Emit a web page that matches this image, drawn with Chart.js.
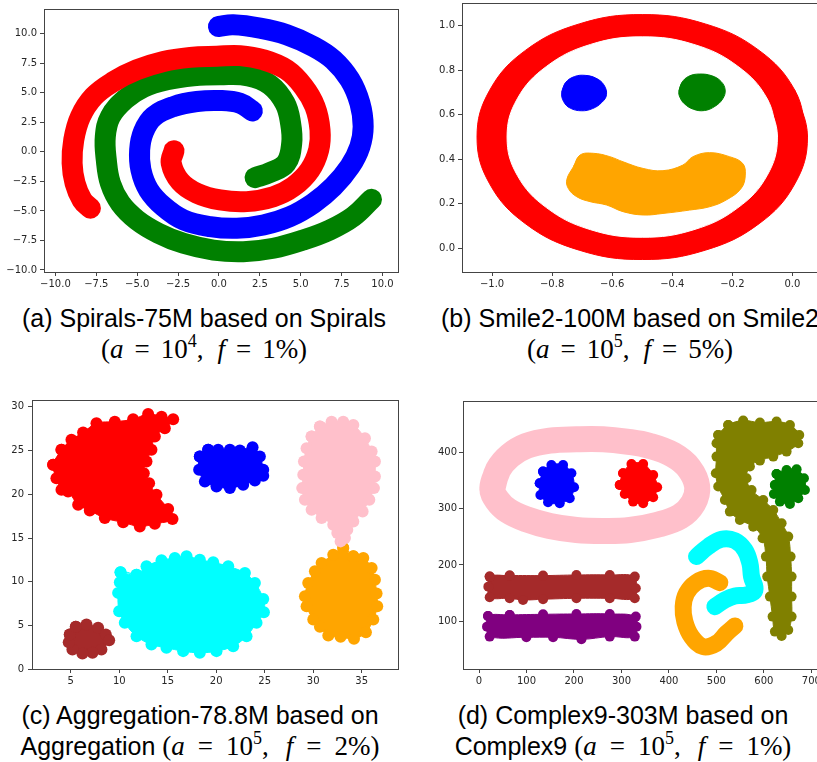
<!DOCTYPE html>
<html>
<head>
<meta charset="utf-8">
<script src="https://cdn.jsdelivr.net/npm/chart.js@4.4.1/dist/chart.umd.min.js"></script>
<style>
  html, body { margin: 0; padding: 0; background: #fff; }
  body { width: 817px; height: 762px; position: relative; overflow: hidden; }
  canvas { position: absolute; }
  .cap { position: absolute; width: 500px; text-align: center; font-family: 'Liberation Sans', Arial, sans-serif; font-size: 25px; color: #000; white-space: nowrap; }
  .cap div { height: 31px; line-height: 31px; }
  .m { font-family: 'Liberation Serif', 'DejaVu Serif', serif; font-size: 27px; }
  .m i { font-style: italic; }
  .m sup { font-size: 18px; vertical-align: 11px; line-height: 0; }
  .m .eq { margin: 0 11px; }
  .m .cm { margin-right: 14px; }
  .w .eq { margin: 0 13px; }
  .w .cm { margin-right: 17px; }
</style>
</head>
<body>
<canvas id="pa" width="410" height="290" style="left:0;top:0"></canvas>
<canvas id="pb" width="420" height="290" style="left:418px;top:0"></canvas>
<canvas id="pc" width="410" height="300" style="left:0;top:390px"></canvas>
<canvas id="pd" width="420" height="300" style="left:418px;top:390px"></canvas>

<div class="cap" style="left:-46px;top:303px">
  <div>(a) Spirals-75M based on Spirals</div>
  <div><span class="m">(<i>a</i><span class="eq">=</span>10<sup>4</sup><span class="cm">,</span><i>f</i><span class="eq">=</span>1%)</span></div>
</div>
<div class="cap" style="left:380px;top:303px">
  <div>(b) Smile2-100M based on Smile2</div>
  <div><span class="m">(<i>a</i><span class="eq">=</span>10<sup>5</sup><span class="cm">,</span><i>f</i><span class="eq">=</span>5%)</span></div>
</div>
<div class="cap" style="left:-50px;top:700px">
  <div>(c) Aggregation-78.8M based on</div>
  <div>Aggregation <span class="m w">(<i>a</i><span class="eq">=</span>10<sup>5</sup><span class="cm">,</span><i>f</i><span class="eq">=</span>2%)</span></div>
</div>
<div class="cap" style="left:373px;top:700px">
  <div>(d) Complex9-303M based on</div>
  <div>Complex9 <span class="m w">(<i>a</i><span class="eq">=</span>10<sup>5</sup><span class="cm">,</span><i>f</i><span class="eq">=</span>1%)</span></div>
</div>

<script>
// (a) Spirals: centre lines of the three arms
const spiralRed = [[-2.75,0.1],[-2.92,-0.96],[-2.37,-2.51],[-1.35,-3.50],[0.07,-4.07],[1.70,-4.21],[3.33,-3.79],[4.55,-2.94],[5.56,-1.53],[6.10,0.17],[6.18,1.86],[5.87,3.84],[5.16,5.54],[4.14,6.95],[2.72,7.80],[1.29,8.15],[-0.13,8.10],[-1.76,8.00],[-3.39,7.66],[-5.02,6.95],[-6.44,5.96],[-7.66,4.69],[-8.47,2.99],[-8.88,1.02],[-8.98,-0.96],[-8.80,-2.66],[-8.37,-4.07],[-7.86,-4.77]];
const spiralGreen = [[2.21,-2.18],[3.12,-1.75],[4.10,-0.96],[4.45,0.73],[4.38,2.43],[4.04,4.12],[3.12,5.68],[1.80,6.44],[0.07,6.53],[-1.56,6.44],[-3.18,6.10],[-4.61,5.48],[-5.73,4.46],[-6.64,2.99],[-6.95,1.30],[-6.89,-0.68],[-6.64,-2.66],[-6.03,-4.35],[-5.02,-5.76],[-3.69,-6.89],[-2.17,-7.74],[-0.34,-8.31],[1.49,-8.45],[3.33,-8.16],[5.16,-7.46],[6.78,-6.61],[8.21,-5.48],[9.33,-4.01]];
const spiralBlue = [[2.04,3.47],[1.29,4.12],[0.07,4.35],[-1.35,4.27],[-2.78,3.84],[-4.00,2.99],[-4.61,1.72],[-4.85,0.17],[-4.77,-1.53],[-4.30,-3.22],[-3.39,-4.63],[-2.17,-5.76],[-0.54,-6.33],[1.09,-6.47],[2.72,-6.19],[4.34,-5.48],[5.77,-4.35],[6.99,-2.94],[8.01,-1.24],[8.62,0.45],[8.82,2.15],[8.62,4.12],[8.01,6.10],[6.99,7.80],[5.77,8.93],[4.14,9.92],[2.51,10.48],[0.88,10.76],[-0.03,10.62]];
const ticksA = [-10, -7.5, -5, -2.5, 0, 2.5, 5, 7.5, 10];

// (b) Smile2: face ring (outer / inner edge), eyes, mouth outlines
const faceOuter = [[0.05,0.5],[0.008,0.710],[-0.111,0.889],[-0.290,1.008],[-0.5,1.05],[-0.710,1.008],[-0.889,0.889],[-1.008,0.710],[-1.05,0.5],[-1.008,0.290],[-0.889,0.111],[-0.710,-0.008],[-0.5,-0.05],[-0.290,-0.008],[-0.111,0.111],[0.008,0.290]];
const faceInner = [[-0.05,0.5],[-0.084,0.672],[-0.182,0.818],[-0.328,0.916],[-0.5,0.95],[-0.672,0.916],[-0.818,0.818],[-0.916,0.672],[-0.95,0.5],[-0.916,0.328],[-0.818,0.182],[-0.672,0.084],[-0.5,0.05],[-0.328,0.084],[-0.182,0.182],[-0.084,0.328]];
const eyeLeft = [[-0.768,0.700],[-0.755,0.745],[-0.725,0.772],[-0.690,0.777],[-0.655,0.765],[-0.628,0.735],[-0.619,0.690],[-0.635,0.655],[-0.665,0.628],[-0.702,0.618],[-0.740,0.630],[-0.762,0.660]];
const eyeRight = [[-0.378,0.705],[-0.368,0.745],[-0.345,0.773],[-0.310,0.783],[-0.268,0.775],[-0.238,0.750],[-0.224,0.712],[-0.232,0.672],[-0.258,0.638],[-0.293,0.619],[-0.330,0.625],[-0.360,0.650],[-0.375,0.680]];
const mouth = [[-0.729,0.367],[-0.707,0.419],[-0.663,0.427],[-0.608,0.412],[-0.564,0.389],[-0.497,0.359],[-0.431,0.349],[-0.365,0.374],[-0.331,0.412],[-0.276,0.430],[-0.210,0.412],[-0.166,0.382],[-0.157,0.329],[-0.171,0.269],[-0.221,0.217],[-0.276,0.187],[-0.343,0.172],[-0.431,0.157],[-0.497,0.150],[-0.564,0.165],[-0.619,0.195],[-0.674,0.210],[-0.718,0.232],[-0.746,0.269],[-0.751,0.310]];
const ticksBx = [-1.0, -0.8, -0.6, -0.4, -0.2, 0.0];
const ticksBy = [0.0, 0.2, 0.4, 0.6, 0.8, 1.0];

// (c) Aggregation: cluster outlines (centres of the edge markers)
const aggRed = [[3.18,23.36],[4.04,25.07],[5.07,26.21],[6.27,27.04],[7.65,28.10],[9.54,28.29],[11.43,28.56],[12.98,29.17],[14.36,28.86],[15.56,28.56],[14.70,27.53],[13.67,26.59],[13.32,25.07],[12.81,23.74],[12.53,22.41],[13.08,21.27],[13.84,19.94],[15.04,18.31],[15.49,17.17],[13.67,16.63],[12.12,16.33],[10.40,16.79],[8.51,17.28],[6.96,18.15],[5.76,18.80],[4.72,20.32],[4.04,20.51],[3.52,21.84]];
const aggBlue = [[18.31,24.31],[19.17,25.07],[20.20,25.07],[21.41,25.07],[22.44,24.99],[23.75,25.37],[24.50,24.31],[24.85,22.79],[24.85,22.10],[23.99,21.57],[22.78,21.08],[21.41,20.70],[20.03,20.89],[18.83,21.46],[18.24,22.79]];
const aggPink = [[29.84,26.59],[30.70,27.73],[31.90,28.29],[33.10,28.29],[34.14,27.91],[35.34,26.40],[36.03,24.88],[36.37,23.74],[36.37,22.03],[36.27,20.70],[35.79,19.37],[35.10,18.04],[34.14,16.90],[33.52,15.95],[33.28,15.00],[32.83,14.62],[32.49,15.57],[32.07,16.52],[30.87,17.28],[29.84,18.23],[29.15,19.37],[28.87,20.70],[28.98,22.22],[29.05,23.74],[29.32,25.26]];
const aggOrange = [[33.10,13.86],[34.14,12.91],[35.17,12.72],[36.03,11.58],[36.37,10.25],[36.54,8.66],[36.61,7.22],[36.20,5.70],[35.44,4.25],[34.21,3.49],[32.83,3.72],[31.56,3.87],[30.70,4.86],[30.01,5.70],[29.32,7.22],[29.15,8.36],[29.49,9.87],[30.18,11.20],[30.87,12.15],[32.07,13.10]];
const aggCyan = [[10.13,11.09],[11.78,10.82],[12.81,11.77],[14.36,12.46],[15.73,12.72],[16.94,12.91],[18.31,12.53],[19.69,12.23],[21.24,11.77],[22.96,11.01],[23.99,9.87],[24.85,8.05],[24.92,6.53],[24.16,5.32],[23.13,3.80],[21.75,2.66],[20.03,2.09],[18.31,1.90],[16.59,2.09],[14.87,2.47],[13.32,2.85],[11.78,3.80],[10.57,5.32],[9.99,6.65],[9.88,8.74],[10.06,9.95]];
const aggBrown = [[4.90,3.99],[5.52,4.86],[6.62,5.13],[7.82,4.75],[8.61,3.99],[8.96,3.34],[8.16,2.28],[7.24,1.90],[6.20,1.82],[5.17,2.28],[4.79,3.11]];
const ticksCx = [5, 10, 15, 20, 25, 30, 35];
const ticksCy = [0, 5, 10, 15, 20, 25, 30];

// (d) Complex9: ring and arc centre lines, blob outlines
const cxPinkRing = [[28.1,336.1],[40.0,368.6],[64.6,393.5],[99.8,411.2],[149.0,420.7],[205.2,423.1],[261.4,423.1],[310.5,418.9],[359.7,411.2],[408.9,395.3],[442.6,371.6],[459.5,339.1],[451.1,309.5],[423.0,285.8],[373.8,271.0],[317.6,262.1],[261.4,260.4],[205.2,262.1],[149.0,269.2],[99.8,281.1],[61.1,296.4],[37.9,315.4]];
const cxBlue = [[127.9,345.0],[134.9,365.7],[152.5,377.5],[177.1,377.5],[194.6,362.7],[200.2,337.9],[191.1,318.3],[170.0,309.5],[145.4,311.2],[129.3,324.3]];
const cxRed = [[296.5,342.0],[303.5,362.7],[321.1,379.3],[345.7,379.3],[366.8,359.8],[375.2,337.9],[366.8,320.1],[345.7,309.5],[324.6,312.4],[307.0,326.0]];
const cxGreen = [[623.2,342.0],[626.7,361.5],[647.8,368.6],[668.9,369.8],[684.3,353.8],[686.4,333.1],[672.4,318.3],[654.8,308.3],[633.7,312.4],[621.1,326.0]];
const cxBrown = [[22.5,179.3],[64.6,181.1],[134.9,181.1],[205.2,182.2],[275.4,182.2],[328.1,179.3],[330.2,158.6],[328.1,140.8],[275.4,140.8],[205.2,140.8],[134.9,139.1],[92.7,137.9],[64.6,140.8],[22.5,142.6],[19.7,161.5]];
const cxPurple = [[19.0,109.5],[64.6,111.2],[134.9,112.4],[205.2,113.0],[275.4,113.0],[330.2,108.3],[331.6,90.5],[328.1,72.8],[275.4,72.8],[215.7,68.0],[156.0,71.6],[99.8,71.6],[22.5,72.8],[16.9,90.5]];
const cxOlive = [[503.8,430.8],[524.8,448.5],[556.4,456.2],[591.6,452.7],[626.7,454.4],[654.8,448.5],[674.5,430.8],[672.4,416.0],[647.8,401.2],[619.7,392.3],[591.6,385.2],[570.5,374.6],[563.5,353.8],[574.0,333.1],[598.6,315.4],[619.7,297.6],[637.3,274.0],[651.3,250.3],[656.2,214.8],[658.3,179.3],[658.3,143.8],[658.3,108.3],[651.3,84.6],[637.3,74.0],[623.2,81.7],[618.3,108.3],[612.7,143.8],[607.0,179.3],[604.2,214.8],[597.2,247.3],[577.5,268.0],[549.4,279.9],[528.3,294.7],[517.8,315.4],[503.8,339.1],[498.8,362.7],[500.2,392.3],[500.2,416.0]];
const cxCyan = [[458.1,214.8],[482.7,232.5],[510.8,245.6],[538.9,243.2],[560.0,226.6],[570.5,203.0],[574.0,179.3],[581.1,155.6],[563.5,146.7],[538.9,145.0],[517.8,137.9],[496.7,126.0]];
const cxOrange = [[507.3,168.6],[482.7,176.3],[456.7,168.6],[437.0,149.7],[430.0,126.0],[433.5,99.4],[447.6,72.8],[472.1,55.0],[500.2,61.0],[521.3,78.7],[538.9,91.7]];
const ticksDx = [0, 100, 200, 300, 400, 500, 600, 700];
const ticksDy = [100, 200, 300, 400];

const pts = (a) => a.map(([x, y]) => ({ x, y }));
// go round once more past the start so the smoothed outline closes without a kink
const closed = (a) => pts(a.concat([a[0], a[1]]));

function band(data, color, width) {
    return {
        data, showLine: true, fill: false,
        borderColor: color, borderWidth: width,
        borderCapStyle: 'round', borderJoinStyle: 'round',
        tension: 0.4, pointRadius: 0
    };
}

function blob(data, color, r) {
    return {
        data: closed(data), showLine: true, fill: 'shape',
        backgroundColor: color, borderColor: color, borderWidth: 1,
        tension: 0.4, pointRadius: r, pointBackgroundColor: color, pointBorderWidth: 0
    };
}

// matplotlib style box round the plot area
const frame = {
    id: 'frame',
    afterDatasetsDraw(chart) {
        const a = chart.chartArea, ctx = chart.ctx;
        ctx.save();
        ctx.strokeStyle = '#444';
        ctx.lineWidth = 1;
        ctx.strokeRect(Math.round(a.left) + 0.5, Math.round(a.top) + 0.5,
            Math.round(a.right - a.left), Math.round(a.bottom - a.top));
        ctx.restore();
    }
};

function axis(min, max, ticks, size, digits, pad) {
    return {
        type: 'linear', min, max,
        afterBuildTicks: (s) => { s.ticks = ticks.map((value) => ({ value })); },
        afterFit: (s) => {
            if (s.isHorizontal()) s.height = size; else s.width = size;
            s.paddingTop = s.paddingBottom = s.paddingLeft = s.paddingRight = 0;
        },
        grid: { drawOnChartArea: false, drawTicks: true, tickLength: 4, tickColor: '#444', tickWidth: 1 },
        border: { display: false },
        ticks: {
            autoSkip: false, maxRotation: 0, padding: pad, color: '#262626',
            font: { family: 'DejaVu Sans', size: 10 },
            callback: (v) => Number(v).toFixed(digits).replace('-', '\u2212')
        }
    };
}

function panel(id, datasets, x, y, padTop, padRight) {
    new Chart(document.getElementById(id), {
        type: 'scatter',
        data: { datasets },
        options: {
            responsive: false, animation: false, events: [],
            layout: { padding: { top: padTop, right: padRight, left: 0, bottom: 0 } },
            plugins: { legend: { display: false }, tooltip: { enabled: false } },
            scales: { x, y }
        },
        plugins: [frame]
    });
}

panel('pa', [
    band(pts(spiralRed), 'red', 21),
    band(pts(spiralGreen), 'green', 21),
    band(pts(spiralBlue), 'blue', 21)
], axis(-10.7, 10.95, ticksA, 18, 1, 2), axis(-10.17, 12.1, ticksA, 44, 1, 3), 9, 12);

panel('pb', [
    blob(eyeLeft, 'blue', 0),
    blob(eyeRight, 'green', 0),
    blob(mouth, 'orange', 0),
    blob(faceInner, '#ffffff', 0),
    blob(faceOuter, 'red', 0)
], axis(-1.1, 0.105, ticksBx, 18, 1, 2), axis(-0.106, 1.102, ticksBy, 44, 1, 3), 3, 14);

panel('pc', [
    blob(aggRed, 'red', 6),
    blob(aggBlue, 'blue', 6),
    blob(aggPink, 'pink', 6),
    blob(aggOrange, 'orange', 6),
    blob(aggCyan, 'cyan', 6),
    blob(aggBrown, 'brown', 6)
], axis(1.0, 38.75, ticksCx, 21, 0, 2), axis(0.05, 30.76, ticksCy, 32, 0, 4), 10, 12);

panel('pd', [
    blob(cxBlue, 'blue', 5),
    blob(cxRed, 'red', 5),
    blob(cxGreen, 'green', 5),
    band(closed(cxPinkRing), 'pink', 26),
    blob(cxBrown, 'brown', 5),
    blob(cxPurple, 'purple', 5),
    blob(cxOlive, 'olive', 5),
    band(pts(cxCyan), 'cyan', 17),
    band(pts(cxOrange), 'orange', 17)
], axis(-33.7, 735, ticksDx, 21, 0, 2), axis(15.3, 491, ticksDy, 45, 0, 2), 11, 10);
</script>
</body>
</html>
